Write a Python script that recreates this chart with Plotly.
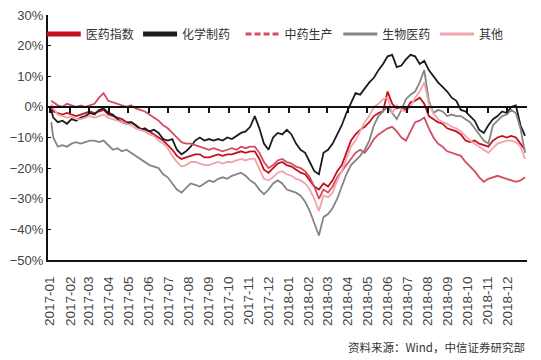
import pandas as pd
import plotly.graph_objects as go

# ---- data (cumulative return, %) ----
dates = ['2017-01-03'] + [d.strftime('%Y-%m-%d') for d in pd.date_range('2017-01-06', periods=104, freq='7D')]

yiyao = [0,
    -1.5, -2, -2.5, -2, -2.5, -3, -2.5, -2, -1.5, -2,
    -1.5, -1, -2.5, -3, -3.5, -4, -5, -5, -6, -7,
    -7.5, -8, -9, -10, -11, -12.5, -14, -16, -17, -16.5,
    -16, -15.5, -15.5, -16.5, -16.5, -16, -15.5, -16, -15.5, -15.5,
    -15, -14.5, -15, -14.5, -14.5, -17, -20.5, -21.5, -20, -18.5,
    -18, -19, -19.5, -20.5, -21.5, -22, -24, -26, -27, -25,
    -26, -24, -21, -19, -15, -11, -9, -7.5, -6.5, -5,
    -3, -2, -1.5, 5, 1, -0.5, 0, -1, 1.5, 2,
    3, 1, -3, -4, -5, -5.5, -7, -7.5, -8, -9,
    -11, -11.5, -11, -12, -12.5, -13, -11, -10, -9.5, -10,
    -9.5, -10, -12, -14]

huaxue = [-1,
    -3.5, -5, -4.5, -5.5, -4, -4.5, -3.5, -3, -2, -2.5,
    -1, -0.5, -2, -2.5, -4, -5, -5.5, -5, -6, -7.5,
    -7, -8, -7.5, -8.5, -10.5, -11, -10.5, -14, -15.5, -14.5,
    -13, -11, -10, -11, -10.5, -11, -10.5, -11, -10, -10.5,
    -9.5, -8.5, -8, -6.5, -3, -7, -12, -14, -10, -8.5,
    -9, -7.5, -9, -12, -14, -15, -18, -21, -22, -15,
    -14, -12, -9, -6, -2, 1, 4.5, 4, 6, 8,
    9.5, 12, 14, 16.5, 17, 13, 13.5, 15.5, 17, 16.5,
    14, 15, 12, 10, 8, 6.5, 5, 3, 2, -1,
    -1.5, -3, -4.5, -7.5, -8.5, -6, -4, -3, -1.5, -2,
    0, 0.5, -6, -9.5]

zhongyao = [2,
    1.5, 0.5, 0, 1, 0.5, 0, 0.5, 0, 0.5, 1,
    3, 4.5, 2, 1.5, 1, 0.5, 0, 0.5, -0.5, -1,
    -1.5, -2.5, -3.5, -4.5, -6, -7, -8.5, -10, -11.5, -12,
    -12, -12.5, -13, -13.5, -14, -13.5, -14, -14.5, -14, -13.5,
    -14, -13, -13.5, -13, -13, -15, -18, -20, -19, -17.5,
    -17, -18, -18.5, -19.5, -20, -21, -23, -26, -30, -27,
    -28, -26, -23, -21, -19, -17, -15, -14, -15, -13,
    -10.5, -9, -8, -7, -6.5, -8, -10, -11, -8, -5,
    -4.5, -3.5, -7, -10, -12, -13, -14.5, -15, -15.5, -16,
    -18, -19.5, -21, -23, -24.5, -23.5, -23, -22.5, -23, -23.5,
    -24, -24.5, -24, -23]

shengwu = [-5,
    -10, -13, -12.5, -13, -12, -11.5, -12, -11.5, -11, -11,
    -11.5, -11, -12.5, -14, -13.5, -14.5, -14, -15, -16, -17,
    -18, -19, -19.5, -20, -22, -23, -25, -27, -28, -26.5,
    -25, -25.5, -26, -25, -24, -24.5, -23.5, -23, -23.5, -22.5,
    -22, -21.5, -22.5, -24, -25, -27, -28.5, -27, -25, -24,
    -25, -27, -27.5, -28, -29, -31, -34, -38, -42, -36,
    -35, -33, -30, -26, -22, -19, -17.5, -16, -14, -11,
    -6, -3, -1.5, 0, -2, -4, -1, 2.5, 4, 5,
    8, 12, 2, -2, -1, -1.5, -3, -2.5, -3, -3,
    -4, -5, -7, -9, -11, -12, -6, -4.5, -3, -2.5,
    -1, -2, -7, -15]

qita = [1,
    -0.5, -2.5, -3, -3.5, -3, -4, -4, -3.5, -3, -3.5,
    -3, -2.5, -3.5, -4, -4.5, -5, -5.5, -6, -7, -7.5,
    -8, -9, -9.5, -11, -12, -13.5, -16, -18, -19.5, -19,
    -18, -18, -18.5, -19, -19, -18.5, -18, -18.5, -18, -18,
    -17.5, -17, -17.5, -17, -17, -20, -23.5, -24, -23, -21.5,
    -21, -22, -22.5, -23.5, -24, -25, -27, -30, -34, -29,
    -29.5, -28, -24, -21, -17, -13, -11, -8, -5, -3,
    0, 1, 2.5, 3, -2, 0.5, -1, -1.5, 0, 3,
    5, 8, 1, -2, -4, -5, -5.5, -6.5, -7, -8,
    -9.5, -11, -12, -13, -14, -15, -13.5, -12, -11.5, -11,
    -11, -11.5, -13, -17]

series_names = ['医药指数', '化学制药', '中药生产', '生物医药', '其他']
series_vals = [yiyao, huaxue, zhongyao, shengwu, qita]
colors = ['#c3111f', '#1c1c1c', '#d24d60', '#858585', '#f2a3ab']
legend_widths = [5, 5, 3, 3, 3]
legend_dash = ['solid', 'solid', '6px,3px', 'solid', 'solid']
legend_x = [-0.013, 0.188, 0.402, 0.606, 0.808]

FONT = 'Liberation Sans, Arial, Noto Sans CJK SC, sans-serif'
CJK = 'Noto Sans CJK SC, sans-serif'

fig = go.Figure()
for name, vals, col in zip(series_names, series_vals, colors):
    fig.add_trace(go.Scatter(x=dates, y=vals, mode='lines', name=name,
                             line=dict(color=col, width=1.8), showlegend=False))
# legend entries, one legend per entry
legend_ids = ['legend', 'legend2', 'legend3', 'legend4', 'legend5']
for name, col, w, d, lid in zip(series_names, colors, legend_widths, legend_dash, legend_ids):
    fig.add_trace(go.Scatter(x=[None], y=[None], mode='lines', name=name, legend=lid,
                             line=dict(color=col, width=w, dash=d)))
# invisible trace for the zero-line axis
fig.add_trace(go.Scatter(x=dates, y=[None] * len(dates), xaxis='x2', mode='lines',
                         showlegend=False, hoverinfo='skip'))

legend_layout = {}
for lid, lx in zip(legend_ids, legend_x):
    legend_layout[lid] = dict(orientation='h', x=lx, xanchor='left', y=0.922, yanchor='middle',
                              font=dict(family=CJK, size=12, color='#333333'),
                              bgcolor='rgba(0,0,0,0)', itemwidth=34)

xr = ['2016-12-29', '2018-12-31']
fig.update_layout(
    width=541, height=360,
    margin=dict(l=48, r=14, t=15, b=100, autoexpand=False),
    paper_bgcolor='white', plot_bgcolor='white',
    font=dict(family=FONT, color='#444444', size=13),
    showlegend=True,
    xaxis=dict(range=xr, type='date', tickformat='%Y-%m', dtick='M1', tick0='2017-01-01',
               tickangle=-90, showgrid=False, zeroline=False, ticks='', automargin=False,
               showline=True, linecolor='#111111', linewidth=2, ticklabelstandoff=9,
               tickfont=dict(size=13.5, color='#444444')),
    xaxis2=dict(range=xr, type='date', overlaying='x', anchor='free', position=0.625,
                dtick='M1', tick0='2017-01-01', showticklabels=False, showgrid=False,
                zeroline=False, ticks='outside', ticklen=5, tickwidth=1.5, tickcolor='#111111',
                showline=True, linecolor='#111111', linewidth=2, automargin=False),
    yaxis=dict(range=[-50, 30], dtick=10, ticksuffix='%', showgrid=False, zeroline=False,
               showline=True, linecolor='#111111', linewidth=2, ticks='inside', ticklen=3,
               automargin=False,
               tickcolor='#111111', tickfont=dict(size=13, color='#444444')),
    annotations=[dict(text='资料来源：Wind，中信证券研究部', xref='paper', yref='paper',
                      x=1.0, y=-0.355, xanchor='right', yanchor='middle', showarrow=False,
                      font=dict(family=CJK, size=11.5, color='#333333'))],
    **legend_layout,
)

fig.write_html('out.html', config={'displayModeBar': False},
               post_script="document.body.style.margin='0';")
